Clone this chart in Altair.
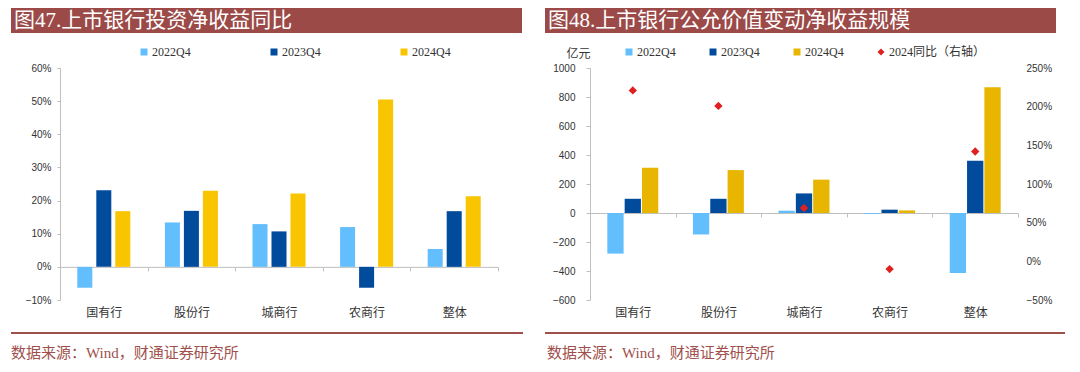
import altair as alt
import pandas as pd

# ---------------- data ----------------
categories = ["国有行", "股份行", "城商行", "农商行", "整体"]
series_names = ["2022Q4", "2023Q4", "2024Q4"]
yoy_name = "2024同比（右轴）"

# Fig 47: investment net income YoY (%)
inv_2022 = [-6.3, 13.4, 12.9, 12.0, 5.4]
inv_2023 = [23.1, 16.9, 10.7, -6.3, 16.8]
inv_2024 = [16.8, 23.0, 22.1, 50.5, 21.3]

# Fig 48: fair value change net income (亿元) and 2024 YoY (%)
fv_2022 = [-280, -148, 16, -6, -413]
fv_2023 = [98, 98, 135, 23, 360]
fv_2024 = [312, 296, 230, 18, 867]
fv_yoy = [221, 201, 69, -10, 142]

left_ticks = [-10, 0, 10, 20, 30, 40, 50, 60]
right_ticks = [-600, -400, -200, 0, 200, 400, 600, 800, 1000]
right2_ticks = [-50, 0, 50, 100, 150, 200, 250]

title_left = "图47.上市银行投资净收益同比"
title_right = "图48.上市银行公允价值变动净收益规模"
source_text = "数据来源：Wind，财通证券研究所"
unit_text = "亿元"

# ---------------- styles ----------------
BANNER = "#9B4A48"
SRC = "#A0504C"
AXIS = "#BFBFBF"
LBL = "#333333"
CJK = "Noto Sans CJK SC"
SERIF = "Liberation Serif, Noto Sans CJK SC"
SANS = "Liberation Sans"
left_colors = ["#63BEFD", "#004B9C", "#F9C400"]
right_colors = ["#63BEFD", "#004B9C", "#E8B500", "#E02020"]

W_L, W_R, H = 438, 428, 232

left_df = pd.DataFrame(
    [{"cat": c, "series": s, "v": v}
     for s, vals in zip(series_names, [inv_2022, inv_2023, inv_2024])
     for c, v in zip(categories, vals)]
)
right_df = pd.DataFrame(
    [{"cat": c, "rseries": s, "v": v}
     for s, vals in zip(series_names, [fv_2022, fv_2023, fv_2024])
     for c, v in zip(categories, vals)]
)
yoy_df = pd.DataFrame({"cat": categories, "rseries": [yoy_name] * 5, "v": fv_yoy})


def deco(x0, x1, rule_x1, title, src_x):
    d = alt.Data(values=[{"t": title, "s": source_text}])
    banner = alt.Chart(d).mark_rect(color=BANNER).encode(
        x=alt.value(x0), x2=alt.value(x1), y=alt.value(-60), y2=alt.value(-35)
    )
    ttl = alt.Chart(d).mark_text(
        align="left", baseline="middle", color="white", font=SERIF, fontSize=21
    ).encode(x=alt.value(x0 + 3), y=alt.value(-47), text="t:N")
    rule = alt.Chart(d).mark_rule(color=SRC, strokeWidth=2).encode(
        x=alt.value(x0), x2=alt.value(rule_x1), y=alt.value(265)
    )
    src = alt.Chart(d).mark_text(
        align="left", baseline="middle", color=SRC, font=SERIF, fontSize=15
    ).encode(x=alt.value(src_x), y=alt.value(285), text="s:N")
    return [banner, ttl, rule, src]


def x_enc(domain_max, domain_min):
    zero_off = -(H * (0 - domain_min) / (domain_max - domain_min))
    return alt.X(
        "cat:N", sort=categories,
        scale=alt.Scale(paddingInner=0, paddingOuter=0),
        axis=alt.Axis(
            title=None, orient="bottom", offset=zero_off, labelAngle=0,
            tickBand="extent", tickSize=4, tickColor=AXIS, domainColor=AXIS,
            labelPadding=307 - (68 + H + zero_off + 4),
            labelFont=CJK, labelFontSize=12, labelColor=LBL,
        ),
    )


# ---------------- left chart ----------------
left_bars = alt.Chart(left_df).mark_bar().encode(
    x=x_enc(60, -10),
    xOffset=alt.XOffset("series:N", sort=series_names,
                        scale=alt.Scale(paddingInner=0.21, paddingOuter=0.91)),
    y=alt.Y("v:Q", scale=alt.Scale(domain=[-10, 60], nice=False),
            axis=alt.Axis(title=None, values=left_ticks, grid=False,
                          labelExpr="format(datum.value, 'd') + '%'",
                          tickSize=3, tickColor=AXIS, domainColor=AXIS,
                          labelPadding=6, labelFont=SANS, labelFontSize=10,
                          labelColor=LBL)),
    color=alt.Color("series:N",
                    scale=alt.Scale(domain=series_names, range=left_colors),
                    legend=alt.Legend(title=None, orient="none", legendX=78,
                                      legendY=-22, direction="horizontal",
                                      symbolType="square", symbolSize=49,
                                      symbolStrokeWidth=0, labelFont=SERIF,
                                      labelFontSize=12, labelColor=LBL,
                                      columnPadding=77, labelOffset=2,
                                      padding=0)),
)

left = alt.layer(left_bars, *deco(-49, 462, 463, title_left, -49)).properties(
    width=W_L, height=H
)

# ---------------- right chart ----------------
all_names = series_names + [yoy_name]
color_scale = alt.Scale(domain=all_names, range=right_colors)
right_legend = alt.Legend(title=None, orient="none", legendX=33, legendY=-22,
                          direction="horizontal", symbolSize=49,
                          symbolStrokeWidth=0, labelFont=SERIF,
                          labelFontSize=12, labelColor=LBL, columnPadding=31,
                          labelOffset=2, padding=0)

right_bars = alt.Chart(right_df).mark_bar().encode(
    x=x_enc(1000, -600),
    xOffset=alt.XOffset("rseries:N", sort=series_names,
                        scale=alt.Scale(paddingInner=0.06, paddingOuter=1)),
    y=alt.Y("v:Q", scale=alt.Scale(domain=[-600, 1000], nice=False),
            axis=alt.Axis(title=unit_text, titleAngle=0, titleX=-12,
                          titleY=-15, titleAlign="center",
                          titleBaseline="middle", titleFont=CJK,
                          titleFontSize=12, titleFontWeight="normal",
                          titleColor=LBL, values=right_ticks, grid=False,
                          orient="left", format="d", tickSize=4,
                          tickColor=AXIS, domainColor=AXIS, labelPadding=11,
                          labelFont=SANS, labelFontSize=10, labelColor=LBL)),
    color=alt.Color("rseries:N", scale=color_scale, legend=right_legend),
)

right_pts = alt.Chart(yoy_df).mark_point(filled=True, size=70, opacity=1).encode(
    x=alt.X("cat:N", sort=categories),
    y=alt.Y("v:Q", scale=alt.Scale(domain=[-50, 250], nice=False),
            axis=alt.Axis(title=None, orient="right", values=right2_ticks,
                          grid=False, domain=False, ticks=False,
                          labelExpr="format(datum.value, 'd') + '%'",
                          labelPadding=8, labelFont=SANS, labelFontSize=10,
                          labelColor=LBL)),
    color=alt.Color("rseries:N", scale=color_scale, legend=right_legend),
    shape=alt.Shape("rseries:N",
                    scale=alt.Scale(domain=all_names,
                                    range=["square", "square", "square", "diamond"]),
                    legend=right_legend),
)

right = alt.layer(right_bars, right_pts,
                  *deco(-45, 466, 475, title_right, -43)).resolve_scale(
    y="independent"
).properties(width=W_R, height=H)

chart = alt.hconcat(left, right, spacing=92, bounds="flush").resolve_scale(
    color="independent", shape="independent", xOffset="independent"
).resolve_legend(color="independent", shape="independent").properties(
    padding={"left": 2, "top": 0, "right": 0, "bottom": 0}
).configure_view(stroke=None)

chart.save("out.html", embed_options={"renderer": "svg", "actions": False})
